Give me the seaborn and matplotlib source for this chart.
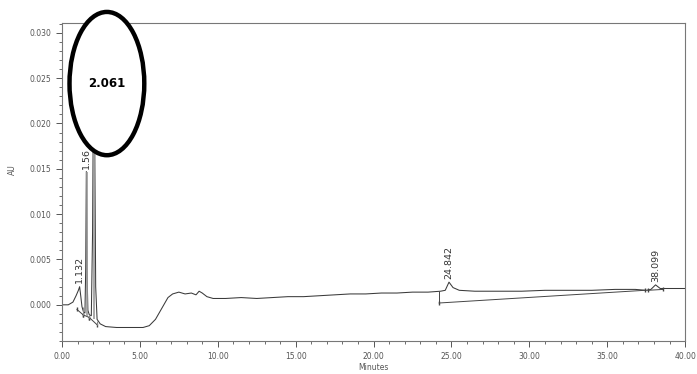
import matplotlib
matplotlib.use("Agg")
import matplotlib.pyplot as plt
import seaborn as sns
import pandas as pd
from matplotlib.patches import Ellipse
from matplotlib.ticker import MultipleLocator, FormatStrFormatter

# Chromatogram trace (minutes, AU)
time_min = [0.0, 0.4, 0.7, 0.9, 1.05, 1.13, 1.2, 1.28, 1.38, 1.47, 1.52, 1.56, 1.6, 1.66,
            1.75, 1.88, 1.96, 2.01, 2.06, 2.11, 2.16, 2.25, 2.45, 2.8, 3.5, 4.5, 5.2,
            5.6, 6.0, 6.4, 6.8, 7.1, 7.5, 7.9, 8.3, 8.6, 8.8, 9.0, 9.3, 9.7, 10.5,
            11.5, 12.5, 13.5, 14.5, 15.5, 16.5, 17.5, 18.5, 19.5, 20.5, 21.5, 22.5,
            23.5, 24.3, 24.6, 24.84, 25.1, 25.5, 26.5, 28.0, 29.5, 31.0, 32.5, 34.0,
            35.5, 36.8, 37.5, 37.8, 38.1, 38.4, 39.0, 40.0]
absorb_au = [0.0000, 0.0000, 0.0003, 0.0010, 0.0016, 0.0020, 0.0010, -0.0002, -0.0008,
             -0.0009, 0.0040, 0.0147, 0.0040, -0.0006, -0.0011, -0.0012, 0.0080,
             0.0220, 0.0300, 0.0150, 0.0020, -0.0016, -0.0021, -0.0024, -0.0025,
             -0.0025, -0.0025, -0.0023, -0.0016, -0.0004, 0.0008, 0.0012, 0.0014,
             0.0012, 0.0013, 0.0011, 0.0015, 0.0013, 0.0009, 0.0007, 0.0007, 0.0008,
             0.0007, 0.0008, 0.0009, 0.0009, 0.0010, 0.0011, 0.0012, 0.0012, 0.0013,
             0.0013, 0.0014, 0.0014, 0.0015, 0.0016, 0.0025, 0.0019, 0.0016, 0.0015,
             0.0015, 0.0015, 0.0016, 0.0016, 0.0016, 0.0017, 0.0017, 0.0016, 0.0017,
             0.0022, 0.0018, 0.0018, 0.0018]

# Integration baselines (start/end of each peak)
base_x = [[0.95, 1.35], [1.35, 1.75], [1.75, 2.25], [24.2, 37.4], [37.6, 38.6]]
base_y = [[-0.0005, -0.0011], [-0.0011, -0.0014], [-0.0014, -0.0022], [0.0002, 0.0016], [0.0016, 0.0017]]

# Peak labels
peak_rt = [1.132, 1.56, 24.842, 38.099]
peak_label = ["1.132", "1.56", "24.842", "38.099"]
peak_top = [0.0022, 0.0148, 0.0026, 0.0023]

sns.set_style("white")
fig = plt.figure(figsize=(6.97, 3.74), dpi=100)
ax = fig.add_axes([0.089, 0.088, 0.894, 0.851])

df = pd.DataFrame({"Minutes": time_min, "AU": absorb_au})
sns.lineplot(data=df, x="Minutes", y="AU", ax=ax, color="#3a3a3a", linewidth=0.75)

for bx, by in zip(base_x, base_y):
    ax.plot(bx, by, color="#444444", linewidth=0.7)
    ax.plot(bx, by, linestyle="none", marker="|", markersize=3, color="#444444")
# drop lines at peak boundaries
ax.vlines([24.2], 0.0002, 0.0015, color="#444444", linewidth=0.7)
ax.vlines([1.35, 1.75, 2.25], [-0.0011, -0.0014, -0.0022], [-0.0002, -0.0011, -0.0018],
          color="#888888", linewidth=0.7)
ax.vlines([1.58, 2.08], [-0.0012, -0.0016], [0.0147, 0.030], color="#999999", linewidth=1.2)

for rt, lab, top in zip(peak_rt, peak_label, peak_top):
    ax.text(rt, top + 0.0002, lab, rotation=90, ha="center", va="bottom",
            fontsize=6.8, color="#333333")

ax.set_xlim(0, 40)
ax.set_ylim(-0.004, 0.0311)
ax.xaxis.set_major_locator(MultipleLocator(5))
ax.xaxis.set_minor_locator(MultipleLocator(1))
ax.yaxis.set_major_locator(MultipleLocator(0.005))
ax.yaxis.set_minor_locator(MultipleLocator(0.001))
ax.xaxis.set_major_formatter(FormatStrFormatter("%.2f"))
ax.yaxis.set_major_formatter(FormatStrFormatter("%.3f"))
ax.tick_params(axis="both", which="major", direction="out", length=4, width=0.7,
               labelsize=5.5, colors="#555555", left=True, bottom=True)
ax.tick_params(axis="both", which="minor", direction="out", length=2, width=0.6,
               colors="#555555", left=True, bottom=True)
for s in ax.spines.values():
    s.set_color("#777777")
    s.set_linewidth(0.8)
ax.set_xlabel("Minutes", fontsize=5.5, color="#555555", labelpad=2)
ax.set_ylabel("AU", fontsize=5.5, color="#555555")
ax.yaxis.set_label_coords(-0.072, 0.54)

ell = Ellipse((2.88, 0.0244), 4.8, 0.0158, facecolor="white", edgecolor="black",
              linewidth=3.2, clip_on=False, zorder=5)
ax.add_patch(ell)
ax.text(2.88, 0.0244, "2.061", ha="center", va="center", fontsize=8.5,
        fontweight="bold", color="black", zorder=6)

fig.savefig("out.png", dpi=100)
